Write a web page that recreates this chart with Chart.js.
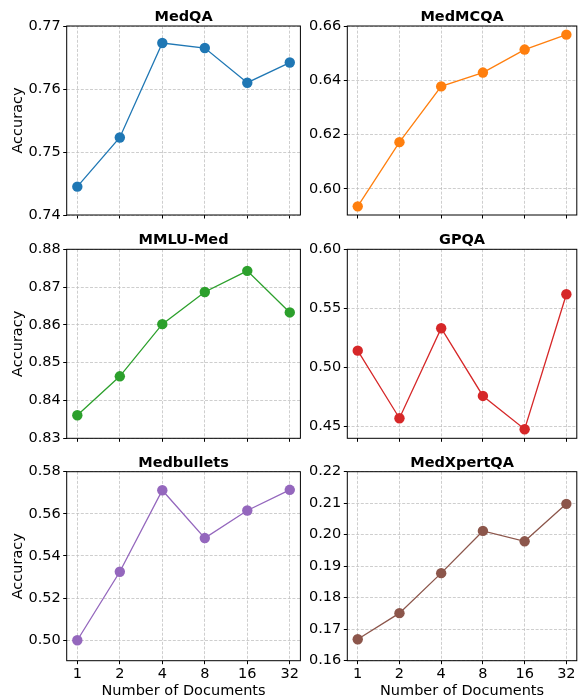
<!DOCTYPE html>
<html><head><meta charset="utf-8">
<script src="https://cdn.jsdelivr.net/npm/chart.js@4.4.1/dist/chart.umd.min.js"></script>
<style>
html,body{margin:0;padding:0;background:#fff;}
#wrap{position:relative;width:582px;height:699px;overflow:hidden;background:#fff;}
#wrap canvas{position:absolute;left:0;top:0;}
</style></head><body><div id="wrap"></div>
<script>
// ---- data ----
const categories = ['1', '2', '4', '8', '16', '32'];
const panelTitles = ['MedQA', 'MedMCQA', 'MMLU-Med', 'GPQA', 'Medbullets', 'MedXpertQA'];
const xLabel = 'Number of Documents';
const yLabel = 'Accuracy';

const medqa      = [0.7445, 0.7523, 0.7673, 0.7665, 0.7610, 0.7642];
const medmcqa    = [0.5935, 0.6172, 0.6378, 0.6429, 0.6514, 0.6569];
const mmluMed    = [0.8361, 0.8464, 0.8602, 0.8687, 0.8743, 0.8633];
const gpqa       = [0.5141, 0.4568, 0.5331, 0.4757, 0.4475, 0.5619];
const medbullets = [0.5000, 0.5325, 0.5712, 0.5485, 0.5616, 0.5714];
const medxpertqa = [0.1668, 0.1751, 0.1878, 0.2012, 0.1979, 0.2098];

const medqaTicks      = [0.74, 0.75, 0.76, 0.77];
const medmcqaTicks    = [0.60, 0.62, 0.64, 0.66];
const mmluMedTicks    = [0.83, 0.84, 0.85, 0.86, 0.87, 0.88];
const gpqaTicks       = [0.45, 0.50, 0.55, 0.60];
const medbulletsTicks = [0.50, 0.52, 0.54, 0.56, 0.58];
const medxpertqaTicks = [0.16, 0.17, 0.18, 0.19, 0.20, 0.21, 0.22];

const medqaRange      = [0.74, 0.77];
const medmcqaRange    = [0.5903, 0.6601];
const mmluMedRange    = [0.83, 0.88];
const gpqaRange       = [0.4398, 0.60];
const medbulletsRange = [0.4903, 0.58];
const medxpertqaRange = [0.16, 0.22];

const seriesList = [medqa, medmcqa, mmluMed, gpqa, medbullets, medxpertqa];
const tickList   = [medqaTicks, medmcqaTicks, mmluMedTicks, gpqaTicks, medbulletsTicks, medxpertqaTicks];
const rangeList  = [medqaRange, medmcqaRange, mmluMedRange, gpqaRange, medbulletsRange, medxpertqaRange];

// ---- style / layout ----
const colors = ['#1f77b4', '#ff7f0e', '#2ca02c', '#d62728', '#9467bd', '#8c564b'];
const W = 582, H = 699;
const colLeft = [66.7, 347.3], colRight = [300.4, 581];
const rowTop = [26, 249.3, 471.7], rowBottom = [215, 438.3, 660.7];
const FS = 14.5;
const FONT = "'DejaVu Sans', 'Liberation Sans', sans-serif";
const YW = 60;
const GRID = '#c2c2c2';

Chart.defaults.font.family = FONT;
Chart.defaults.font.size = FS;
Chart.defaults.color = '#000';

const framePlugin = {
  id: 'frame',
  afterDatasetsDraw(chart) {
    const {ctx, chartArea: a} = chart;
    ctx.save();
    ctx.strokeStyle = '#000';
    ctx.lineWidth = 1;
    ctx.strokeRect(a.left, a.top, a.right - a.left, a.bottom - a.top);
    ctx.restore();
  }
};

const wrap = document.getElementById('wrap');
seriesList.forEach((vals, i) => {
  const col = i % 2, row = Math.floor(i / 2);
  const aL = colLeft[col], aR = colRight[col], aT = rowTop[row], aB = rowBottom[row];
  const bottomRow = row === 2, leftCol = col === 0;
  const XH = bottomRow ? 37.55 : 10;
  const TH = FS * 1.2;
  const canvas = document.createElement('canvas');
  canvas.width = W; canvas.height = H;
  canvas.style.width = W + 'px'; canvas.style.height = H + 'px';
  wrap.appendChild(canvas);
  const yt = tickList[i];
  const gridOpts = {color: GRID, lineWidth: 0.8, drawTicks: true, tickLength: 3.5,
                    tickColor: '#000', tickWidth: 1, tickBorderDash: []};
  const borderOpts = {display: false, dash: [3, 1.6]};
  new Chart(canvas, {
    type: 'line',
    data: {
      datasets: [{
        data: vals.map((v, k) => ({x: k, y: v})),
        borderColor: colors[i],
        backgroundColor: colors[i],
        borderWidth: 1.3,
        pointRadius: 5.2,
        pointBorderWidth: 0,
        pointBackgroundColor: colors[i],
        pointHoverRadius: 5.2,
        tension: 0,
        clip: false
      }]
    },
    options: {
      responsive: false,
      animation: false,
      devicePixelRatio: 1,
      layout: {padding: {left: aL - YW, right: W - aR, top: aT - TH, bottom: H - aB - XH}},
      plugins: {
        legend: {display: false},
        tooltip: {enabled: false},
        title: {
          display: true, text: panelTitles[i], fullSize: false,
          font: {size: FS, weight: 'bold', family: FONT, lineHeight: 1.2},
          padding: {top: 0, bottom: 0}, color: '#000'
        }
      },
      scales: {
        x: {
          type: 'linear', min: -0.25, max: 5.25, bounds: 'data',
          afterBuildTicks: s => { s.ticks = categories.map((c, k) => ({value: k})); },
          afterFit: s => { s.height = XH; },
          border: borderOpts,
          grid: gridOpts,
          ticks: {display: bottomRow, padding: 1.5, maxRotation: 0, autoSkip: false,
                  callback: v => categories[v], font: {size: FS}},
          title: {display: bottomRow, text: xLabel, font: {size: FS, lineHeight: 1}, padding: {top: 0, bottom: 0}}
        },
        y: {
          type: 'linear', min: rangeList[i][0], max: rangeList[i][1], bounds: 'data',
          afterBuildTicks: s => { s.ticks = yt.map(v => ({value: v})); },
          afterFit: s => { s.width = YW; },
          border: borderOpts,
          grid: gridOpts,
          ticks: {padding: 2.5, autoSkip: false, callback: v => Number(v).toFixed(2), font: {size: FS}},
          title: {display: leftCol, text: yLabel, font: {size: FS, lineHeight: 1}, padding: {top: 3.9, bottom: 0}}
        }
      }
    },
    plugins: [framePlugin]
  });
});
</script>
</body></html>
